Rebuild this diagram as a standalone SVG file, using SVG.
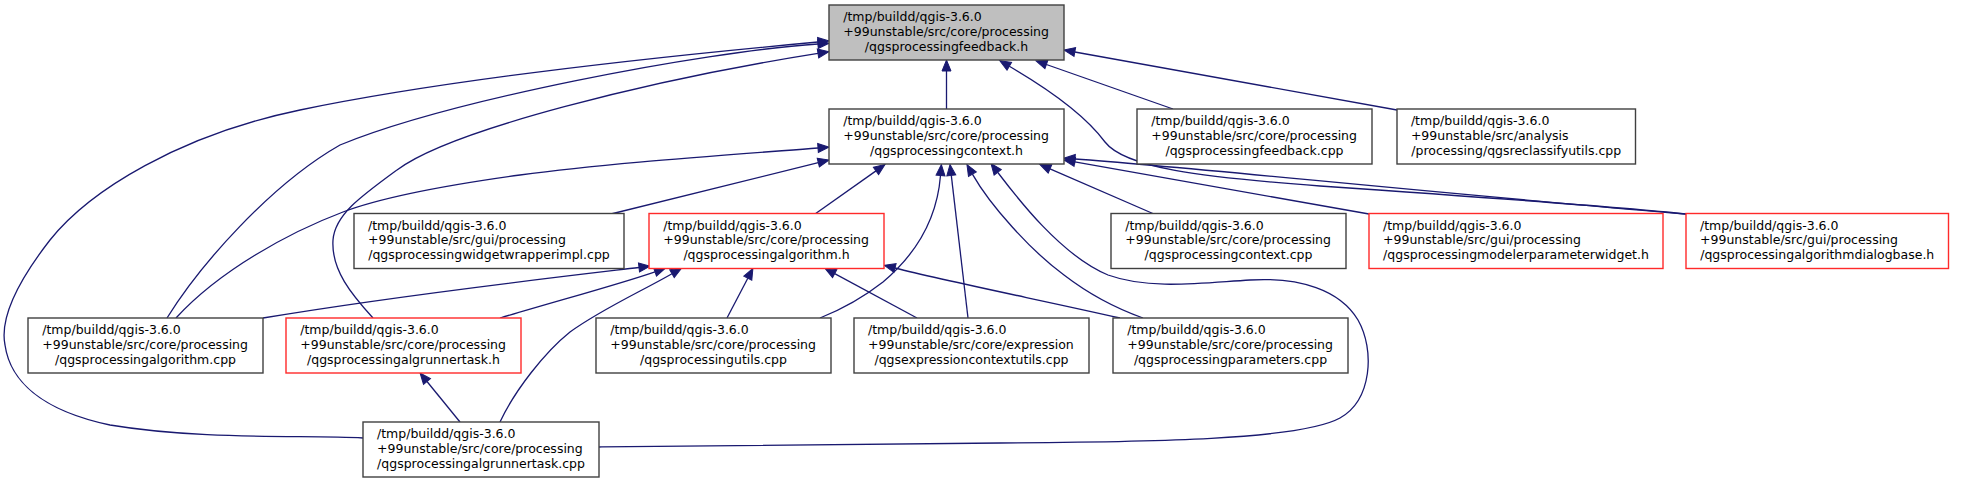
<svg xmlns="http://www.w3.org/2000/svg" width="1961" height="483" viewBox="0 0 1961 483">
<style>
.node rect{fill:#ffffff;stroke:#404040;stroke-width:1.4}
.node.red rect{stroke:#ff2a2a}
.node.root rect{fill:#bfbfbf}
text{font-family:"DejaVu Sans","Liberation Sans",sans-serif;font-size:12.5px;fill:#000000}
text.c{text-anchor:middle}
.edges path{fill:none;stroke:#191970;stroke-width:1.3;marker-start:url(#ah)}
</style>
<defs>
<marker id="ah" markerUnits="userSpaceOnUse" markerWidth="11" markerHeight="9" refX="0" refY="4.5" viewBox="0 0 11 9" orient="auto-start-reverse" overflow="visible">
<path d="M0,0 L11,4.5 L0,9 Z" fill="#191970" stroke="#191970" stroke-width="1"/>
</marker>
</defs>
<rect width="1961" height="483" fill="#ffffff"/>
<g id="edges" class="edges">
<path d="M946.5,71 L946.5,109"/>
<path d="M1046.4,64.5 L1173,109"/>
<path d="M1074.8,52 L1397,110"/>
<path d="M1009.3,66.3 C1050,90 1085,115 1105,142 C1125,168 1200,177 1320,186 C1480,197 1620,207 1686,214"/>
<path d="M818,44 C700,52 450,100 340,145 C270,185 200,265 167,318"/>
<path d="M818,53.4 C650,80 450,130 397,170 C360,197 335,215 333,240 C331,270 352,295 373,318"/>
<path d="M818,42 C600,62 420,85 300,110 C180,135 90,190 50,240 C15,285 0,320 5,345 C10,380 40,410 110,425 C200,440 300,435 363,438"/>
<path d="M818.3,162.6 L611,214"/>
<path d="M818,148 C700,157 600,164 520,175 C440,186 380,198 343,212 C290,232 220,270 176,318"/>
<path d="M876,170.9 L815,214"/>
<path d="M940.5,175.5 C937,220 915,255 883,282 C860,300 840,310 820,318"/>
<path d="M951.3,175.4 L968,318"/>
<path d="M972.4,174.1 C990,205 1030,250 1064,275 C1090,295 1115,308 1143,318"/>
<path d="M997.7,172.3 C1015,195 1060,255 1108,275 C1150,290 1200,283 1250,280 C1300,277 1340,290 1358,320 C1375,350 1372,400 1340,418 C1300,440 1150,442 1000,443 C800,444 700,446 599,447"/>
<path d="M1050,168.9 L1154,214"/>
<path d="M1074.8,161.9 L1369,214"/>
<path d="M1075,159 C1200,168 1400,190 1686,214"/>
<path d="M639,267.5 C550,278 400,295 263,318"/>
<path d="M655,271.8 C620,284 560,300 500,318"/>
<path d="M672,273.7 C640,292 600,310 570,332 C545,352 515,390 500,422"/>
<path d="M747.8,278.2 L727,318"/>
<path d="M834.7,273.6 L917,318"/>
<path d="M895,268 C950,282 1050,302 1120,318"/>
<path d="M427,381.5 L460,422"/>
</g>
<g id="n_fh" class="node root">
<rect x="829" y="5" width="235" height="55"/>
<text x="843.25" y="21.2">/tmp/buildd/qgis-3.6.0</text>
<text x="843.25" y="35.9">+99unstable/src/core/processing</text>
<text class="c" x="946.5" y="50.6">/qgsprocessingfeedback.h</text>
</g>
<g id="n_ch" class="node">
<rect x="829" y="109" width="235" height="55"/>
<text x="843.25" y="125.2">/tmp/buildd/qgis-3.6.0</text>
<text x="843.25" y="139.9">+99unstable/src/core/processing</text>
<text class="c" x="946.5" y="154.6">/qgsprocessingcontext.h</text>
</g>
<g id="n_fcpp" class="node">
<rect x="1137" y="109" width="235" height="55"/>
<text x="1151.25" y="125.2">/tmp/buildd/qgis-3.6.0</text>
<text x="1151.25" y="139.9">+99unstable/src/core/processing</text>
<text class="c" x="1254.5" y="154.6">/qgsprocessingfeedback.cpp</text>
</g>
<g id="n_rec" class="node">
<rect x="1397" y="109" width="238.5" height="55"/>
<text x="1410.9" y="125.2">/tmp/buildd/qgis-3.6.0</text>
<text x="1410.9" y="139.9">+99unstable/src/analysis</text>
<text class="c" x="1516.25" y="154.6">/processing/qgsreclassifyutils.cpp</text>
</g>
<g id="n_wwi" class="node">
<rect x="354" y="213.5" width="270" height="55"/>
<text x="368" y="229.7">/tmp/buildd/qgis-3.6.0</text>
<text x="368" y="244.4">+99unstable/src/gui/processing</text>
<text class="c" x="489" y="259.1">/qgsprocessingwidgetwrapperimpl.cpp</text>
</g>
<g id="n_algh" class="node red">
<rect x="649" y="213.5" width="235" height="55"/>
<text x="663.25" y="229.7">/tmp/buildd/qgis-3.6.0</text>
<text x="663.25" y="244.4">+99unstable/src/core/processing</text>
<text class="c" x="766.5" y="259.1">/qgsprocessingalgorithm.h</text>
</g>
<g id="n_ccpp" class="node">
<rect x="1111" y="213.5" width="235" height="55"/>
<text x="1125.25" y="229.7">/tmp/buildd/qgis-3.6.0</text>
<text x="1125.25" y="244.4">+99unstable/src/core/processing</text>
<text class="c" x="1228.5" y="259.1">/qgsprocessingcontext.cpp</text>
</g>
<g id="n_mod" class="node red">
<rect x="1369" y="213.5" width="294" height="55"/>
<text x="1383" y="229.7">/tmp/buildd/qgis-3.6.0</text>
<text x="1383" y="244.4">+99unstable/src/gui/processing</text>
<text class="c" x="1516" y="259.1">/qgsprocessingmodelerparameterwidget.h</text>
</g>
<g id="n_dlg" class="node red">
<rect x="1686" y="213.5" width="262.5" height="55"/>
<text x="1700" y="229.7">/tmp/buildd/qgis-3.6.0</text>
<text x="1700" y="244.4">+99unstable/src/gui/processing</text>
<text class="c" x="1817.25" y="259.1">/qgsprocessingalgorithmdialogbase.h</text>
</g>
<g id="n_algcpp" class="node">
<rect x="28" y="318" width="235" height="55"/>
<text x="42.25" y="334.2">/tmp/buildd/qgis-3.6.0</text>
<text x="42.25" y="348.9">+99unstable/src/core/processing</text>
<text class="c" x="145.5" y="363.6">/qgsprocessingalgorithm.cpp</text>
</g>
<g id="n_arth" class="node red">
<rect x="286" y="318" width="235" height="55"/>
<text x="300.25" y="334.2">/tmp/buildd/qgis-3.6.0</text>
<text x="300.25" y="348.9">+99unstable/src/core/processing</text>
<text class="c" x="403.5" y="363.6">/qgsprocessingalgrunnertask.h</text>
</g>
<g id="n_ucpp" class="node">
<rect x="596" y="318" width="235" height="55"/>
<text x="610.25" y="334.2">/tmp/buildd/qgis-3.6.0</text>
<text x="610.25" y="348.9">+99unstable/src/core/processing</text>
<text class="c" x="713.5" y="363.6">/qgsprocessingutils.cpp</text>
</g>
<g id="n_ecu" class="node">
<rect x="854" y="318" width="235" height="55"/>
<text x="868" y="334.2">/tmp/buildd/qgis-3.6.0</text>
<text x="868" y="348.9">+99unstable/src/core/expression</text>
<text class="c" x="971.5" y="363.6">/qgsexpressioncontextutils.cpp</text>
</g>
<g id="n_pcpp" class="node">
<rect x="1113" y="318" width="235" height="55"/>
<text x="1127.25" y="334.2">/tmp/buildd/qgis-3.6.0</text>
<text x="1127.25" y="348.9">+99unstable/src/core/processing</text>
<text class="c" x="1230.5" y="363.6">/qgsprocessingparameters.cpp</text>
</g>
<g id="n_artcpp" class="node">
<rect x="363" y="422" width="236" height="55"/>
<text x="377" y="438.2">/tmp/buildd/qgis-3.6.0</text>
<text x="377" y="452.9">+99unstable/src/core/processing</text>
<text class="c" x="481" y="467.6">/qgsprocessingalgrunnertask.cpp</text>
</g>
</svg>
